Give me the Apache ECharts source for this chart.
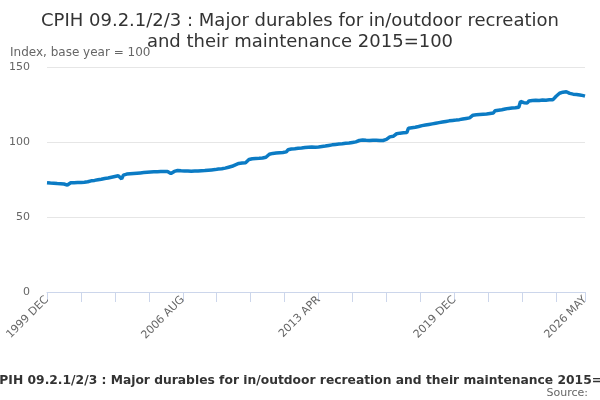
<!DOCTYPE html>
<html>
<head>
<meta charset="utf-8">
<script src="https://cdn.jsdelivr.net/npm/echarts@6/dist/echarts.min.js"></script>
<style>
  html, body { margin: 0; padding: 0; background: #fff; }
  #chart { width: 600px; height: 400px; }
</style>
</head>
<body>
<div id="chart"></div>
<script>
	// series starts 1999 DEC, monthly, ends 2026 MAY
	var startYear = 1999;
	var startMonth = 11; // 0-based, DEC
	var monthNames = ['JAN','FEB','MAR','APR','MAY','JUN','JUL','AUG','SEP','OCT','NOV','DEC'];

	// CPIH 09.2.1/2/3 index values (2015=100)
	var indexValues = [
		72.8,
		72.7, 72.6, 72.6, 72.5, 72.4, 72.3, 72.3, 72.2, 72.1, 72.0, 71.6, 71.3,   // 2000
		72.6, 72.8, 72.8, 72.9, 72.9, 73.0, 73.0, 73.0, 73.1, 73.2, 73.3, 73.5,   // 2001
		74.0, 74.1, 74.2, 74.4, 74.6, 74.8, 75.0, 75.2, 75.5, 75.7, 75.8, 76.0,   // 2002
		76.2, 76.5, 76.8, 77.0, 77.2, 77.5, 77.6, 75.4, 77.9, 78.4, 78.6, 78.7,   // 2003
		78.8, 78.9, 79.0, 79.1, 79.2, 79.3, 79.4, 79.5, 79.6, 79.7, 79.8, 79.9,   // 2004
		80.0, 80.0, 80.1, 80.1, 80.2, 80.2, 80.3, 80.3, 80.3, 80.4, 80.4, 80.2,   // 2005
		79.0, 79.6, 80.4, 80.8, 81.0, 80.9, 80.8, 80.8, 80.7, 80.7, 80.6, 80.6,   // 2006
		80.5, 80.5, 80.6, 80.6, 80.7, 80.8, 80.9, 81.0, 81.0, 81.1, 81.2, 81.3,   // 2007
		81.4, 81.5, 81.6, 81.8, 82.0, 82.1, 82.2, 82.4, 82.6, 83.9, 83.2, 83.4,   // 2008
		83.8, 84.2, 84.8, 85.3, 85.7, 85.9, 86.0, 86.1, 86.2, 86.4, 88.3, 88.6,   // 2009
		88.8, 88.9, 89.0, 89.0, 89.1, 89.2, 89.3, 89.5, 89.8, 90.0, 91.8, 92.2,   // 2010
		92.4, 92.5, 92.6, 92.7, 92.8, 92.9, 93.0, 93.2, 93.4, 94.8, 95.1, 95.3,   // 2011
		95.4, 95.5, 95.6, 95.8, 95.9, 96.0, 96.2, 96.3, 96.4, 96.5, 96.6, 96.7,   // 2012
		96.6, 96.5, 96.6, 96.7, 96.8, 97.0, 97.1, 97.3, 97.5, 97.7, 97.9, 98.1,   // 2013
		98.3, 98.4, 98.5, 98.6, 98.7, 98.8, 99.0, 99.1, 99.2, 99.3, 99.5, 99.7,   // 2014
		99.9, 100.1, 100.6, 101.0, 101.2, 101.3, 101.2, 101.1, 101.0, 101.0, 101.1, 101.2,   // 2015
		101.2, 101.2, 101.1, 101.0, 100.7, 101.0, 101.4, 101.7, 102.0, 103.4, 103.6, 103.8, // 2016
		104.0, 105.5, 105.8, 105.9, 106.0, 106.1, 106.2, 106.3, 109.2, 109.4, 109.5, 109.6, // 2017
		109.8, 110.0, 110.3, 110.6, 110.9, 111.1, 111.3, 111.5, 111.7, 111.9, 112.1, 112.3, // 2018
		112.5, 112.7, 112.9, 113.1, 113.3, 113.5, 113.7, 113.9, 114.1, 114.2, 114.4, 114.5, // 2019
		114.6, 114.8, 114.9, 115.1, 115.3, 115.5, 115.7, 115.9, 116.1, 116.3, 117.9, 118.0, // 2020
		118.1, 118.2, 118.3, 118.4, 118.5, 118.6, 118.7, 118.8, 119.0, 119.2, 119.3, 120.8, // 2021
		121.0, 121.2, 121.3, 121.5, 121.7, 122.0, 122.2, 122.4, 122.6, 122.7, 122.8, 122.8, // 2022
		122.9, 123.2, 127.0, 127.2, 126.2, 125.8, 126.0, 127.4, 127.6, 127.7, 127.8, 127.9, // 2023
		127.8, 127.7, 127.9, 128.0, 128.0, 127.9, 128.0, 128.1, 128.0, 128.1, 128.2, 130.5, // 2024
		131.2, 132.5, 133.0, 133.2, 133.3, 133.5, 133.6, 132.4, 132.0, 131.9, 131.8, 131.7, // 2025
		131.5, 131.3, 131.1, 130.9, 130.6                                                   // 2026
	];

	var yTicks = [0, 50, 100, 150];
	var chartTitle = 'CPIH 09.2.1/2/3 : Major durables for in/outdoor recreation\nand their maintenance 2015=100';
	var footerText = 'CPIH 09.2.1/2/3 : Major durables for in/outdoor recreation and their maintenance 2015=100';

	var monthArray = [];
	for (var i = 0; i < indexValues.length; i++) {
		var m = startMonth + i;
		monthArray.push((startYear + Math.floor(m / 12)) + ' ' + monthNames[m % 12]);
	}
	var lastIdx = monthArray.length - 1;

	var myChart = echarts.init(document.getElementById('chart'));
	var option = {
		animation: false,
		textStyle: { fontFamily: 'DejaVu Sans' },
		title: {
			text: chartTitle,
			left: 'center',
			top: 6,
			textStyle: {
				fontSize: 18,
				fontWeight: 'normal',
				color: '#333',
				lineHeight: 21,
				fontFamily: 'DejaVu Sans'
			}
		},
		graphic: [
			{
				type: 'text', left: 10, top: 47,
				style: { text: 'Index, base year = 100', fill: '#666', font: '12px "DejaVu Sans"' }
			},
			{
				type: 'text', x: 309, y: 381,
				style: { text: footerText, fill: '#333', font: 'bold 12.3px "DejaVu Sans"', textAlign: 'center', textVerticalAlign: 'middle' }
			},
			{
				type: 'text', x: 588, y: 393,
				style: { text: 'Source:', fill: '#666', font: '11px "DejaVu Sans"', textAlign: 'right', textVerticalAlign: 'middle' }
			}
		],
		grid: {
			left: 47,
			right: 15,
			top: 67,
			bottom: 108
		},
		xAxis: {
			type: 'category',
			data: monthArray,
			boundaryGap: false,
			axisLine: { lineStyle: { color: '#ccd6eb' } },
			axisTick: {
				length: 10,
				lineStyle: { color: '#ccd6eb' },
				interval: function (idx) { return idx % 20 === 0 || idx === lastIdx; }
			},
			axisLabel: {
				rotate: 45,
				color: '#666',
				fontSize: 11,
				margin: 6,
				showMaxLabel: true,
				interval: function (idx) { return idx % 80 === 0 || idx === lastIdx; }
			}
		},
		yAxis: {
			type: 'value',
			min: yTicks[0],
			max: yTicks[yTicks.length - 1],
			interval: 50,
			axisLine: { show: false },
			axisTick: { show: false },
			axisLabel: { color: '#666', fontSize: 11, margin: 17 },
			splitLine: { lineStyle: { color: '#e6e6e6' } }
		},
		series: [{
			name: 'CPIH',
			type: 'line',
			data: indexValues,
			showSymbol: false,
			lineStyle: { width: 3.5, color: '#0b7bc4' },
			itemStyle: { color: '#0b7bc4' }
		}]
	};
	myChart.setOption(option);
</script>
</body>
</html>
